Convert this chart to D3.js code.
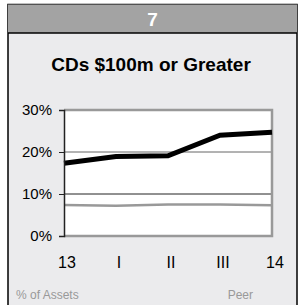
<!DOCTYPE html>
<html>
<head>
<meta charset="utf-8">
<script src="https://cdn.jsdelivr.net/npm/d3@7"></script>
<style>
  body { margin: 0; background: #fff; }
  svg { display: block; font-family: "Liberation Sans", Arial, sans-serif; }
</style>
</head>
<body>
<div id="chart"></div>
<script>
var quarters = ['13', 'I', 'II', 'III', '14'];
var bankValues = [17.3, 18.9, 19.1, 24.0, 24.7];
var peerValues = [7.4, 7.2, 7.5, 7.5, 7.3];
var yTicks = [0, 10, 20, 30];

var width = 303, height = 305;
var box = {left: 8, right: 297, top: 4.5, header: 33};
var plot = {left: 64, right: 272, top: 110, bottom: 236};

var svg = d3.select('#chart').append('svg')
  .attr('width', width)
  .attr('height', height);

// panel
svg.append('rect')
  .attr('x', box.left).attr('y', box.top)
  .attr('width', box.right - box.left).attr('height', height)
  .style('fill', '#ebebed')
  .style('stroke', '#000').style('stroke-width', 1.5);

svg.append('rect')
  .attr('x', box.left).attr('y', box.top)
  .attr('width', box.right - box.left).attr('height', box.header - box.top)
  .style('fill', '#a3a3a3');

svg.append('line')
  .attr('x1', box.left).attr('x2', box.right)
  .attr('y1', box.header).attr('y2', box.header)
  .style('stroke', '#000').style('stroke-width', 1.5);

svg.append('text')
  .attr('x', (box.left + box.right) / 2).attr('y', 26)
  .attr('text-anchor', 'middle')
  .style('font-size', '19px').style('font-weight', 'bold')
  .style('fill', '#fff')
  .text('7');

svg.append('text')
  .attr('x', 151).attr('y', 71)
  .attr('text-anchor', 'middle')
  .style('font-size', '19px').style('font-weight', 'bold')
  .style('fill', '#000')
  .text('CDs $100m or Greater');

var xScale = d3.scalePoint()
  .domain(quarters)
  .range([plot.left, plot.right]);

var yScale = d3.scaleLinear()
  .domain([0, 30])
  .range([plot.bottom, plot.top]);

// plot background
svg.append('rect')
  .attr('x', plot.left).attr('y', plot.top)
  .attr('width', plot.right - plot.left).attr('height', plot.bottom - plot.top)
  .style('fill', '#fff');

// gridlines
svg.selectAll('.grid').data([10, 20])
  .enter().append('line')
    .attr('x1', plot.left).attr('x2', plot.right)
    .attr('y1', function(d) { return yScale(d); })
    .attr('y2', function(d) { return yScale(d); })
    .style('stroke', function(d) { return d == 10 ? '#222' : '#666'; })
    .style('stroke-width', 1);

// plot frame (gray top, right, bottom)
svg.append('path')
  .attr('d', 'M' + plot.left + ',' + plot.top + 'H' + plot.right + 'V' + plot.bottom + 'H' + plot.left)
  .style('fill', 'none')
  .style('stroke', '#999').style('stroke-width', 2.5);

var line = d3.line()
  .x(function(d, i) { return xScale(quarters[i]); })
  .y(function(d) { return yScale(d); });

svg.append('path')
  .datum(peerValues)
  .attr('d', line)
  .style('fill', 'none')
  .style('stroke', '#999').style('stroke-width', 2.5);

svg.append('path')
  .datum(bankValues)
  .attr('d', line)
  .style('fill', 'none')
  .style('stroke', '#000').style('stroke-width', 5);

// y axis
var yAxis = svg.append('g')
  .attr('transform', 'translate(' + plot.left + ',0)')
  .call(d3.axisLeft(yScale).tickValues(yTicks).tickSize(5).tickPadding(7)
    .tickFormat(function(d) { return d + '%'; }));
yAxis.select('.domain').style('stroke', '#222').style('stroke-width', 1.5);
yAxis.selectAll('.tick line').style('stroke', '#222');
yAxis.selectAll('text')
  .style('font-size', '15px').style('fill', '#000')
  .style('font-family', '"Liberation Sans", Arial, sans-serif');

// x labels
svg.selectAll('.xlab').data(quarters)
  .enter().append('text')
    .attr('x', function(d) { return xScale(d) + 3; })
    .attr('y', 268)
    .attr('text-anchor', 'middle')
    .style('font-size', '16px').style('fill', '#000')
    .text(function(d) { return d; });

svg.append('text')
  .attr('x', 16).attr('y', 299)
  .style('font-size', '12px').style('fill', '#999')
  .text('% of Assets');

svg.append('text')
  .attr('x', 253).attr('y', 299)
  .attr('text-anchor', 'end')
  .style('font-size', '12px').style('fill', '#999')
  .text('Peer');
</script>
</body>
</html>
